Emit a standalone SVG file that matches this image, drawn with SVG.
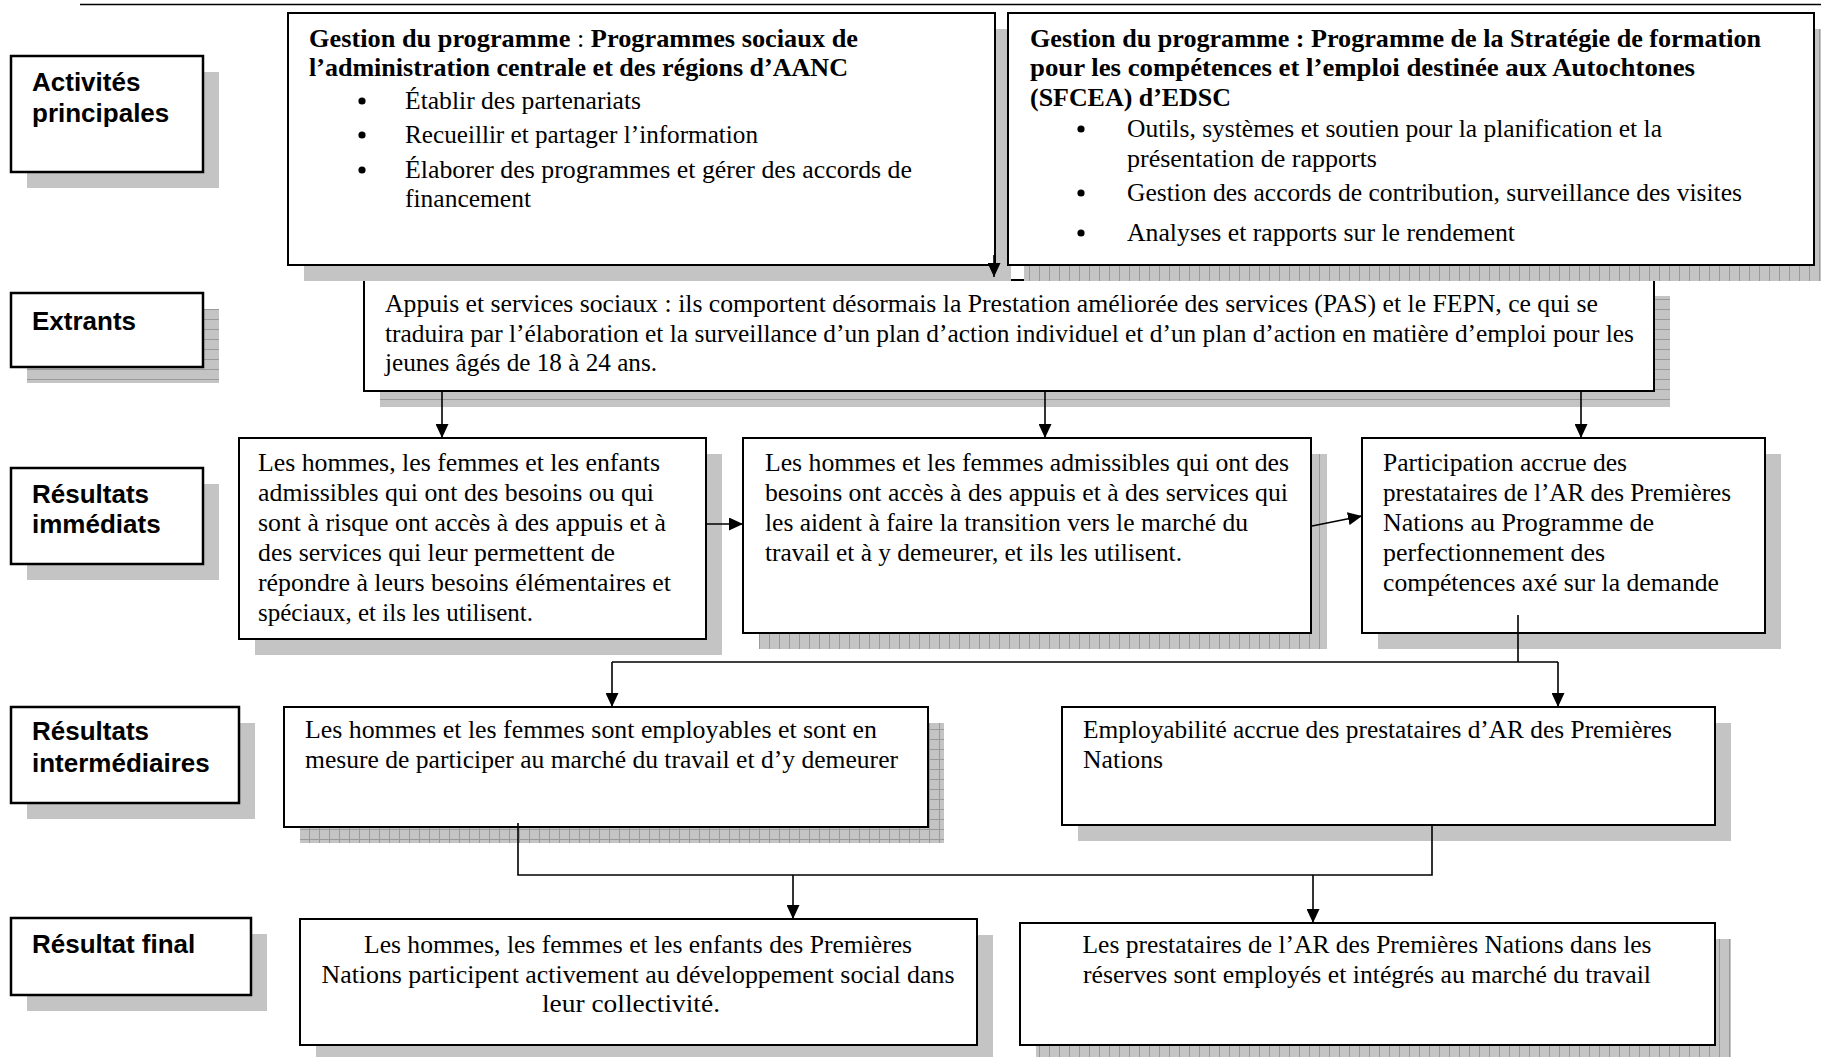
<svg xmlns="http://www.w3.org/2000/svg" width="1821" height="1057" viewBox="0 0 1821 1057">
<defs>
<style>
.bx{fill:#fff;stroke:#000;stroke-width:2}
.lb{fill:#fff;stroke:#000;stroke-width:2.5}
.sh{fill:#c4c4c4}
.hl{fill:url(#phl)}
.vl{fill:url(#pvl)}
.gr{fill:url(#pgr)}
.lt{font-family:"Liberation Sans",Arial,sans-serif;font-weight:bold;font-size:26px;fill:#000}
.t{font-family:"Liberation Serif","Times New Roman",serif;font-size:25px;fill:#000}
.b{font-weight:bold}
.c{text-anchor:middle}
.cn{fill:none;stroke:#000;stroke-width:1.6}
.ar{fill:none;stroke:#000;stroke-width:1.6;marker-end:url(#ah)}
</style>
<pattern id="phl" width="10" height="10" patternUnits="userSpaceOnUse"><rect width="10" height="10" fill="#c4c4c4"/><rect y="9" width="10" height="1" fill="#9a9a9a"/></pattern>
<pattern id="pvl" width="10" height="10" patternUnits="userSpaceOnUse"><rect width="10" height="10" fill="#c4c4c4"/><rect x="9" width="1" height="10" fill="#9a9a9a"/></pattern>
<pattern id="pgr" width="10" height="10" patternUnits="userSpaceOnUse"><rect width="10" height="10" fill="#c4c4c4"/><rect y="9" width="10" height="1" fill="#9a9a9a"/><rect x="9" width="1" height="10" fill="#9a9a9a"/></pattern>
<marker id="ah" markerWidth="14" markerHeight="13" refX="14" refY="6.5" orient="auto" markerUnits="userSpaceOnUse"><path d="M0,0 L14,6.5 L0,13 z" fill="#000"/></marker>
</defs>
<rect width="1821" height="1057" fill="#fff"/>
<line x1="80" y1="4.5" x2="1821" y2="4.5" stroke="#000" stroke-width="1.6"/>

<!-- Left labels -->
<g id="lbl-activites">
<rect class="sh" x="27" y="72" width="192" height="116"/>
<rect class="lb" x="11" y="56" width="192" height="116"/>
<text class="lt" x="32" y="91">Activités</text>
<text class="lt" x="32" y="122">principales</text>
</g>
<g id="lbl-extrants">
<rect class="hl" x="27" y="309" width="192" height="74"/>
<rect class="lb" x="11" y="293" width="192" height="74"/>
<text class="lt" x="32" y="330">Extrants</text>
</g>
<g id="lbl-immediats">
<rect class="sh" x="27" y="484" width="192" height="96"/>
<rect class="lb" x="11" y="468" width="192" height="96"/>
<text class="lt" x="32" y="503">Résultats</text>
<text class="lt" x="32" y="533">immédiats</text>
</g>
<g id="lbl-intermediaires">
<rect class="sh" x="27" y="723" width="228" height="96"/>
<rect class="lb" x="11" y="707" width="228" height="96"/>
<text class="lt" x="32" y="740">Résultats</text>
<text class="lt" x="32" y="772">intermédiaires</text>
</g>
<g id="lbl-final">
<rect class="sh" x="27" y="934" width="240" height="77"/>
<rect class="lb" x="11" y="918" width="240" height="77"/>
<text class="lt" x="32" y="953">Résultat final</text>
</g>

<!-- Extrants box -->
<g id="n-extrants">
<rect class="hl" x="380" y="296" width="1290" height="111"/>
<rect class="bx" x="364" y="280" width="1290" height="111"/>
<text class="t" x="385" y="312" textLength="1213" lengthAdjust="spacingAndGlyphs">Appuis et services sociaux : ils comportent désormais la Prestation améliorée des services (PAS) et le FEPN, ce qui se</text>
<text class="t" x="385" y="342" textLength="1249" lengthAdjust="spacingAndGlyphs">traduira par l’élaboration et la surveillance d’un plan d’action individuel et d’un plan d’action en matière d’emploi pour les</text>
<text class="t" x="385" y="371" textLength="272" lengthAdjust="spacingAndGlyphs">jeunes âgés de 18 à 24 ans.</text>
</g>

<!-- Activities boxes -->
<g id="n-aanc">
<rect class="sh" x="304" y="29" width="707" height="252"/>
<rect class="bx" x="288" y="13" width="707" height="252"/>
<text class="t b" x="309" y="47" textLength="549" lengthAdjust="spacingAndGlyphs">Gestion du programme <tspan font-weight="normal">:</tspan> Programmes sociaux de</text>
<text class="t b" x="309" y="76" textLength="539" lengthAdjust="spacingAndGlyphs">l’administration centrale et des régions d’AANC</text>
<circle cx="362" cy="101" r="3.6"/>
<text class="t" x="405" y="109" textLength="236" lengthAdjust="spacingAndGlyphs">Établir des partenariats</text>
<circle cx="362" cy="135" r="3.6"/>
<text class="t" x="405" y="143" textLength="353" lengthAdjust="spacingAndGlyphs">Recueillir et partager l’information</text>
<circle cx="362" cy="170" r="3.6"/>
<text class="t" x="405" y="178" textLength="507" lengthAdjust="spacingAndGlyphs">Élaborer des programmes et gérer des accords de</text>
<text class="t" x="405" y="207" textLength="126" lengthAdjust="spacingAndGlyphs">financement</text>
</g>
<g id="n-sfcea">
<rect class="vl" x="1024" y="29" width="806" height="252"/>
<rect class="bx" x="1008" y="13" width="806" height="252"/>
<text class="t b" x="1030" y="47" textLength="731" lengthAdjust="spacingAndGlyphs">Gestion du programme : Programme de la Stratégie de formation</text>
<text class="t b" x="1030" y="76" textLength="665" lengthAdjust="spacingAndGlyphs">pour les compétences et l’emploi destinée aux Autochtones</text>
<text class="t b" x="1030" y="106" textLength="201" lengthAdjust="spacingAndGlyphs">(SFCEA) d’EDSC</text>
<circle cx="1081" cy="129" r="3.6"/>
<text class="t" x="1127" y="137" textLength="535" lengthAdjust="spacingAndGlyphs">Outils, systèmes et soutien pour la planification et la</text>
<text class="t" x="1127" y="167" textLength="250" lengthAdjust="spacingAndGlyphs">présentation de rapports</text>
<circle cx="1081" cy="193" r="3.6"/>
<text class="t" x="1127" y="201" textLength="615" lengthAdjust="spacingAndGlyphs">Gestion des accords de contribution, surveillance des visites</text>
<circle cx="1081" cy="233" r="3.6"/>
<text class="t" x="1127" y="241" textLength="388" lengthAdjust="spacingAndGlyphs">Analyses et rapports sur le rendement</text>
</g>

<!-- Immediate results -->
<g id="n-ri1">
<rect class="sh" x="255" y="454" width="467" height="201"/>
<rect class="bx" x="239" y="438" width="467" height="201"/>
<text class="t" x="258" y="471" textLength="402" lengthAdjust="spacingAndGlyphs">Les hommes, les femmes et les enfants</text>
<text class="t" x="258" y="501" textLength="396" lengthAdjust="spacingAndGlyphs">admissibles qui ont des besoins ou qui</text>
<text class="t" x="258" y="531" textLength="408" lengthAdjust="spacingAndGlyphs">sont à risque ont accès à des appuis et à</text>
<text class="t" x="258" y="561" textLength="357" lengthAdjust="spacingAndGlyphs">des services qui leur permettent de</text>
<text class="t" x="258" y="591" textLength="413" lengthAdjust="spacingAndGlyphs">répondre à leurs besoins élémentaires et</text>
<text class="t" x="258" y="621" textLength="275" lengthAdjust="spacingAndGlyphs">spéciaux, et ils les utilisent.</text>
</g>
<g id="n-ri2">
<rect class="vl" x="759" y="454" width="568" height="195"/>
<rect class="bx" x="743" y="438" width="568" height="195"/>
<text class="t" x="765" y="471" textLength="524" lengthAdjust="spacingAndGlyphs">Les hommes et les femmes admissibles qui ont des</text>
<text class="t" x="765" y="501" textLength="523" lengthAdjust="spacingAndGlyphs">besoins ont accès à des appuis et à des services qui</text>
<text class="t" x="765" y="531" textLength="483" lengthAdjust="spacingAndGlyphs">les aident à faire la transition vers le marché du</text>
<text class="t" x="765" y="561" textLength="417" lengthAdjust="spacingAndGlyphs">travail et à y demeurer, et ils les utilisent.</text>
</g>
<g id="n-ri3">
<rect class="sh" x="1378" y="454" width="403" height="195"/>
<rect class="bx" x="1362" y="438" width="403" height="195"/>
<text class="t" x="1383" y="471" textLength="244" lengthAdjust="spacingAndGlyphs">Participation accrue des</text>
<text class="t" x="1383" y="501" textLength="348" lengthAdjust="spacingAndGlyphs">prestataires de l’AR des Premières</text>
<text class="t" x="1383" y="531" textLength="271" lengthAdjust="spacingAndGlyphs">Nations au Programme de</text>
<text class="t" x="1383" y="561" textLength="222" lengthAdjust="spacingAndGlyphs">perfectionnement des</text>
<text class="t" x="1383" y="591" textLength="336" lengthAdjust="spacingAndGlyphs">compétences axé sur la demande</text>
</g>

<!-- Intermediate results -->
<g id="n-int1">
<rect class="gr" x="300" y="723" width="644" height="120"/>
<rect class="bx" x="284" y="707" width="644" height="120"/>
<text class="t" x="305" y="738" textLength="572" lengthAdjust="spacingAndGlyphs">Les hommes et les femmes sont employables et sont en</text>
<text class="t" x="305" y="768" textLength="593" lengthAdjust="spacingAndGlyphs">mesure de participer au marché du travail et d’y demeurer</text>
</g>
<g id="n-int2">
<rect class="sh" x="1078" y="723" width="653" height="118"/>
<rect class="bx" x="1062" y="707" width="653" height="118"/>
<text class="t" x="1083" y="738" textLength="589" lengthAdjust="spacingAndGlyphs">Employabilité accrue des prestataires d’AR des Premières</text>
<text class="t" x="1083" y="768" textLength="80" lengthAdjust="spacingAndGlyphs">Nations</text>
</g>

<!-- Final results -->
<g id="n-fin1">
<rect class="sh" x="316" y="935" width="677" height="126"/>
<rect class="bx" x="300" y="919" width="677" height="126"/>
<text class="t c" x="638" y="953" textLength="548" lengthAdjust="spacingAndGlyphs">Les hommes, les femmes et les enfants des Premières</text>
<text class="t c" x="638" y="983" textLength="633" lengthAdjust="spacingAndGlyphs">Nations participent activement au développement social dans</text>
<text class="t c" x="631" y="1012" textLength="178" lengthAdjust="spacingAndGlyphs">leur collectivité.</text>
</g>
<g id="n-fin2">
<rect class="vl" x="1036" y="939" width="695" height="122"/>
<rect class="bx" x="1020" y="923" width="695" height="122"/>
<text class="t c" x="1367" y="953" textLength="569" lengthAdjust="spacingAndGlyphs">Les prestataires de l’AR des Premières Nations dans les</text>
<text class="t c" x="1367" y="983" textLength="568" lengthAdjust="spacingAndGlyphs">réserves sont employés et intégrés au marché du travail</text>
</g>

<!-- Connectors -->
<g id="connectors">
<path class="ar" d="M994,255 V277"/>
<path class="ar" d="M442,391 V438"/>
<path class="ar" d="M1045,391 V438"/>
<path class="ar" d="M1581,391 V438"/>
<path class="ar" d="M706,524 H743"/>
<path class="ar" d="M1312,526 L1362,516"/>
<path class="cn" d="M1518,615 V662 M612,662 H1558"/>
<path class="ar" d="M612,662 V707"/>
<path class="ar" d="M1558,662 V707"/>
<path class="cn" d="M518,823 V875 H1432 V825"/>
<path class="ar" d="M793,875 V919"/>
<path class="ar" d="M1313,875 V923"/>
</g>
</svg>
